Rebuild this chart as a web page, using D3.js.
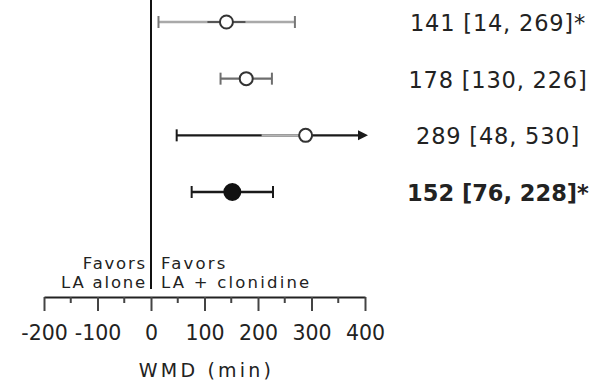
<!DOCTYPE html>
<html>
<head>
<meta charset="utf-8">
<script src="https://cdn.jsdelivr.net/npm/d3@7"></script>
<style>
  body { margin: 0; background: #fff; }
  text { font-family: "DejaVu Sans", Verdana, sans-serif; fill: #222; }
</style>
</head>
<body>
<div id="chart"></div>
<script>
// WMD per study row, with 95% CI
let estimates = [141, 178, 289, 152];
let lowerCI = [14, 130, 48, 76];
let upperCI = [269, 226, 530, 228];
let significant = [true, false, false, true];
let pooled = [false, false, false, true];
let tickValues = [-200, -100, 0, 100, 200, 300, 400];
let minorTickValues = [-150, -50, 50, 150, 250, 350];
let favorsLeft = ["Favors", "LA alone"];
let favorsRight = ["Favors", "LA + clonidine"];
let axisTitle = "WMD (min)";

let width = 601;
let height = 386;

// line colour per row (rough look of the original)
let lineColors = ["#a9a9a9", "#6e6e6e", "#1a1a1a", "#1a1a1a"];

let svg = d3.select("#chart").append("svg")
  .attr("width", width)
  .attr("height", height);

let x = d3.scaleLinear()
  .domain([-200, 400])
  .range([44, 365]);

let y = d3.scalePoint()
  .domain(d3.range(estimates.length))
  .range([22, 192]);

let axisY = 297;

// no-effect line
svg.append("line")
  .attr("x1", x(0)).attr("x2", x(0))
  .attr("y1", 0).attr("y2", 289)
  .attr("stroke", "#111")
  .attr("stroke-width", 2);

let rows = svg.selectAll(".row")
  .data(estimates)
  .enter()
  .append("g")
  .attr("class", "row");

let xMax = x.domain()[1];

// CI lines
rows.append("line")
  .attr("x1", function (d, i) { return x(lowerCI[i]) })
  .attr("x2", function (d, i) { return upperCI[i] > xMax ? x(xMax) - 4 : x(upperCI[i]) })
  .attr("y1", function (d, i) { return y(i) })
  .attr("y2", function (d, i) { return y(i) })
  .attr("stroke", function (d, i) { return lineColors[i] })
  .attr("stroke-width", 2.4);

// darker bit near the first point, lighter bit left of the third one
rows.filter(function (d, i) { return i === 0 })
  .append("line")
  .attr("x1", function (d) { return x(d) - 19 })
  .attr("x2", function (d) { return x(d) + 19 })
  .attr("y1", y(0))
  .attr("y2", y(0))
  .attr("stroke", "#555")
  .attr("stroke-width", 2.2);

rows.filter(function (d, i) { return i === 2 })
  .append("line")
  .attr("x1", function (d) { return x(d) - 44 })
  .attr("x2", function (d) { return x(d) })
  .attr("y1", y(2))
  .attr("y2", y(2))
  .attr("stroke", "#b5b5b5")
  .attr("stroke-width", 2.4);

// lower caps
rows.append("line")
  .attr("x1", function (d, i) { return x(lowerCI[i]) })
  .attr("x2", function (d, i) { return x(lowerCI[i]) })
  .attr("y1", function (d, i) { return y(i) - 6 })
  .attr("y2", function (d, i) { return y(i) + 6 })
  .attr("stroke", function (d, i) { return lineColors[i] === "#a9a9a9" ? "#777" : lineColors[i] })
  .attr("stroke-width", 2);

// upper caps, or an arrow when the CI runs off the axis
rows.filter(function (d, i) { return upperCI[i] <= xMax })
  .append("line")
  .attr("x1", function (d) { return x(upperCI[estimates.indexOf(d)]) })
  .attr("x2", function (d) { return x(upperCI[estimates.indexOf(d)]) })
  .attr("y1", function (d) { return y(estimates.indexOf(d)) - 6 })
  .attr("y2", function (d) { return y(estimates.indexOf(d)) + 6 })
  .attr("stroke", function (d) {
    let c = lineColors[estimates.indexOf(d)];
    return c === "#a9a9a9" ? "#777" : c
  })
  .attr("stroke-width", 2);

rows.filter(function (d, i) { return upperCI[i] > xMax })
  .append("path")
  .attr("d", function (d) {
    let yy = y(estimates.indexOf(d));
    let tip = x(xMax) + 3;
    return `M${tip},${yy} L${tip - 10},${yy - 5} L${tip - 10},${yy + 5} Z`
  })
  .attr("fill", "#1a1a1a");

// point estimates
rows.append("circle")
  .attr("cx", function (d) { return x(d) })
  .attr("cy", function (d, i) { return y(i) })
  .attr("r", function (d, i) { return pooled[i] ? 8 : 6.5 })
  .attr("fill", function (d, i) { return pooled[i] ? "#111" : "#fff" })
  .attr("stroke", function (d, i) { return pooled[i] ? "#111" : "#333" })
  .attr("stroke-width", 2);

// value labels on the right
rows.append("text")
  .attr("x", 498)
  .attr("y", function (d, i) { return y(i) + 9 })
  .attr("text-anchor", "middle")
  .style("font-size", "22.5px")
  .style("font-weight", function (d, i) { return pooled[i] ? "bold" : "normal" })
  .style("letter-spacing", function (d, i) { return pooled[i] ? "0px" : "0.8px" })
  .text(function (d, i) {
    return d + " [" + lowerCI[i] + ", " + upperCI[i] + "]" + (significant[i] ? "*" : "")
  });

// axis
let axis = d3.axisBottom(x)
  .tickValues(tickValues)
  .tickSize(14)
  .tickSizeOuter(0)
  .tickPadding(14)
  .tickFormat(function (d) { return String(d) });

let gAxis = svg.append("g")
  .attr("transform", `translate(0, ${axisY})`)
  .call(axis);

gAxis.select(".domain").attr("stroke", "#222").attr("stroke-width", 2);
gAxis.selectAll(".tick line").attr("stroke", "#444").attr("stroke-width", 2);
gAxis.selectAll(".tick text")
  .attr("fill", "#222")
  .style("font-family", "DejaVu Sans, Verdana, sans-serif")
  .style("font-size", "20.5px");

gAxis.selectAll(".minor")
  .data(minorTickValues)
  .enter()
  .append("line")
  .attr("class", "minor")
  .attr("x1", function (d) { return x(d) })
  .attr("x2", function (d) { return x(d) })
  .attr("y1", 0)
  .attr("y2", 6)
  .attr("stroke", "#444")
  .attr("stroke-width", 2);

// favours labels
svg.selectAll(".favL")
  .data(favorsLeft)
  .enter()
  .append("text")
  .attr("x", 147)
  .attr("y", function (d, i) { return 269 + i * 19 })
  .attr("text-anchor", "end")
  .style("font-size", "16.5px")
  .style("letter-spacing", "1.8px")
  .text(function (d) { return d });

svg.selectAll(".favR")
  .data(favorsRight)
  .enter()
  .append("text")
  .attr("x", 161)
  .attr("y", function (d, i) { return 269 + i * 19 })
  .style("font-size", "16.5px")
  .style("letter-spacing", "2.2px")
  .text(function (d) { return d });

svg.append("text")
  .attr("x", (x.range()[0] + x.range()[1]) / 2 + 2)
  .attr("y", 377)
  .attr("text-anchor", "middle")
  .style("font-size", "19px")
  .style("letter-spacing", "3.2px")
  .text(axisTitle);
</script>
</body>
</html>
